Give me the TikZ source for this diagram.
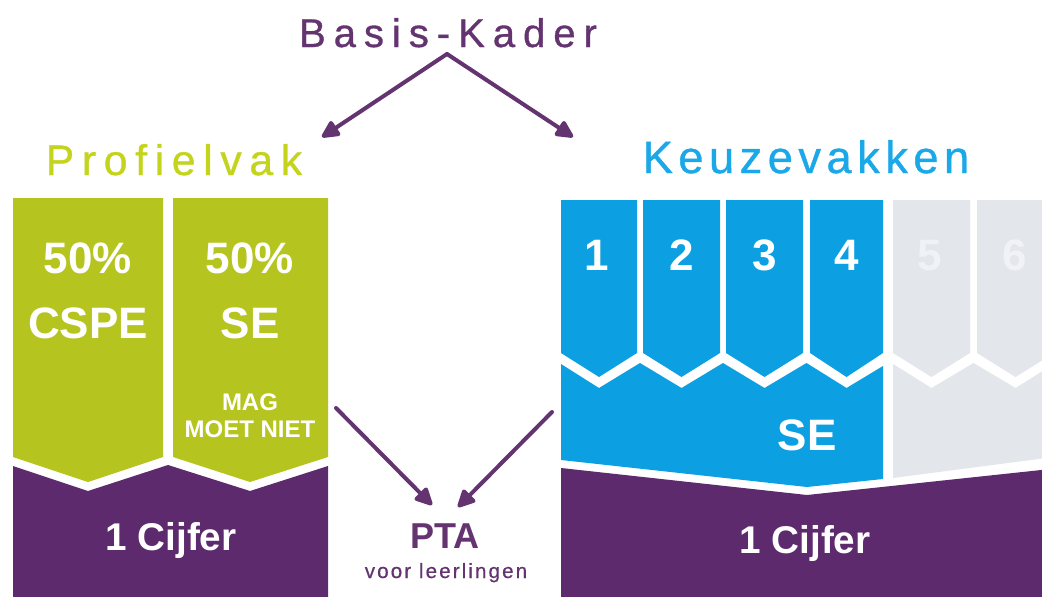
\documentclass[tikz,border=0pt]{standalone}
\usepackage{fontspec}
\setmainfont{Liberation Sans}
\newfontfamily\spacedA[LetterSpace=20,FakeBold=0.8]{Liberation Sans}
\newfontfamily\spacedB[LetterSpace=18,FakeBold=0.8]{Liberation Sans}
\newfontfamily\spacedC[LetterSpace=12,FakeBold=0.8]{Liberation Sans}
\newfontfamily\spacedD[LetterSpace=10,FakeBold=0.5]{Liberation Sans}
\usetikzlibrary{arrows.meta}
\definecolor{limeblock}{RGB}{181,196,30}
\definecolor{limetext}{RGB}{196,212,28}
\definecolor{purpblock}{RGB}{94,42,110}
\definecolor{purptext}{RGB}{100,52,112}
\definecolor{blueblock}{RGB}{12,160,226}
\definecolor{bluetext}{RGB}{26,168,232}
\definecolor{grayblock}{RGB}{227,231,236}
\definecolor{graytext}{RGB}{240,242,245}
\tikzset{
  wtext/.style={text=white, inner sep=0pt, anchor=base},
  bigw/.style={wtext, font=\bfseries\fontsize{33}{36}\selectfont},
  midw/.style={wtext, font=\bfseries\fontsize{29}{32}\selectfont},
  smallw/.style={wtext, font=\bfseries\fontsize{18}{20}\selectfont},
  numw/.style={wtext, font=\bfseries\fontsize{33}{36}\selectfont},
  arr/.style={draw=purptext, line width=3pt, line cap=round,
    -{Triangle[length=15pt,width=14pt,round]}},
}
\begin{document}
\begin{tikzpicture}[x=0.75pt,y=-0.75pt]
\useasboundingbox (0,0) rectangle (1042,596);
\clip (0,0) rectangle (1042,596);
\fill[white] (0,0) rectangle (1042,596);

% ---------- titles ----------
\node[inner sep=0pt, anchor=base, text=purptext,
      font=\spacedA\fontsize{30}{32}\selectfont] (basis) at (448,47) {Basis-Kader};
\node[inner sep=0pt, anchor=base, text=limetext,
      font=\spacedB\fontsize{32}{34}\selectfont] (profiel) at (174,175) {Profielvak};
\node[inner sep=0pt, anchor=base, text=bluetext,
      font=\spacedC\fontsize{34}{36}\selectfont] (keuze) at (806,173) {Keuzevakken};

% ---------- left: profielvak ----------
\fill[purpblock] (13,466) -- (88,491) -- (168,465) -- (250,491) -- (328,466)
  -- (328,600) -- (13,600) -- cycle;
\fill[limeblock] (13,198) -- (163,198) -- (163,457) -- (88,482) -- (13,457) -- cycle;
\fill[limeblock] (173,198) -- (328,198) -- (328,457) -- (250,482) -- (173,457) -- cycle;

\node[bigw] (p1a) at (88,273) {50\%};
\node[bigw] (p1b) at (88,338) {CSPE};
\node[bigw] (p2a) at (250,273) {50\%};
\node[bigw] (p2b) at (250,338) {SE};
\node[smallw] (p2c) at (250,410) {MAG};
\node[smallw] (p2d) at (250,437) {MOET NIET};
\node[midw] (pcijfer) at (171,550) {1 Cijfer};

% ---------- right: keuzevakken ----------
\fill[purpblock] (561,468) -- (807,495) -- (1060,468) -- (1060,600) -- (561,600) -- cycle;
\fill[blueblock] (561,364) -- (599,388) -- (640,363) -- (681.5,388) -- (723,363)
  -- (764.5,388) -- (806.5,363) -- (846.5,388) -- (883,366)
  -- (883,479) -- (807,487) -- (561,460) -- cycle;
\fill[grayblock] (893,364) -- (931.5,388) -- (973.5,363) -- (1015.5,388) -- (1054,364)
  -- (1054,457) -- (893,478) -- cycle;
\foreach \a/\b/\c in {561/637/blueblock, 643/720/blueblock, 726/803/blueblock,
                      810/883/blueblock, 893/970/grayblock, 977/1054/grayblock}{
  \fill[\c] (\a,200) -- (\b,200) -- (\b,353) -- ({(\a+\b)/2},377) -- (\a,353) -- cycle;
}
\node[numw] (k1) at (597,270) {1};
\node[numw] (k2) at (682,270) {2};
\node[numw] (k3) at (765,270) {3};
\node[numw] (k4) at (847,270) {4};
\node[numw, text=graytext] (k5) at (930,270) {5};
\node[numw, text=graytext] (k6) at (1015,270) {6};
\node[bigw] (kse) at (807,450) {SE};
\node[midw] (kcijfer) at (805,553) {1 Cijfer};

% ---------- PTA ----------
\node[inner sep=0pt, anchor=base, text=purptext,
      font=\bfseries\fontsize{27}{30}\selectfont] (pta) at (445,548) {PTA};
\node[inner sep=0pt, anchor=base, text=purptext,
      font=\spacedD\fontsize{15.5}{17}\selectfont] (ptasub) at (446,578) {voor leerlingen};

% ---------- arrows ----------
\coordinate (apex) at (447,54);
\coordinate (pvTip) at (322,137);
\coordinate (kvTip) at (573,137);
\coordinate (pvFrom) at (336,408);
\coordinate (kvFrom) at (552,412);
\coordinate (ptaL) at (432,505);
\coordinate (ptaR) at (458,507);
\draw[arr] (apex) -- (pvTip);
\draw[arr] (apex) -- (kvTip);
\draw[arr] (pvFrom) -- (ptaL);
\draw[arr] (kvFrom) -- (ptaR);
\end{tikzpicture}
\end{document}
